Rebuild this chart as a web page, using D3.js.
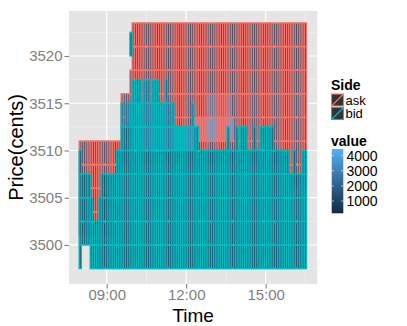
<!DOCTYPE html>
<html>
<head>
<meta charset="utf-8">
<script src="https://cdn.jsdelivr.net/npm/d3@7"></script>
<style>
  body { margin: 0; background: #fff; }
  text { font-family: "Liberation Sans", Arial, sans-serif; }
</style>
</head>
<body>
<svg id="svgContainer"></svg>
<script>
// Set up the SVG container
const svgWidth = 407;
const svgHeight = 326;
const svg = d3.select("#svgContainer")
  .attr("width", svgWidth)
  .attr("height", svgHeight);

// ---- data ----
// price levels (lower edge of each tile, in cents), each tile is 2.5 cents tall
const askLevels = [3501, 3503.5, 3506, 3508.5, 3511, 3513.5, 3516, 3518.5, 3521];
const askValues = [900, 950, 1000, 1050, 1150, 1200, 1000, 900, 850];
const bidLevels = [3497.5, 3500, 3502.5, 3505, 3507.5, 3510, 3512.5, 3515, 3517.5, 3520];
const bidValues = [800, 950, 1050, 1000, 1050, 1300, 1250, 950, 850, 700];

// runs of 5-minute snapshots: [first, last, lowest price, highest price]
const askRuns = [
  ["08:00", "09:30", 3501, 3511],
  ["09:35", "09:50", 3508.5, 3516],
  ["09:55", "09:55", 3508.5, 3518.5],
  ["10:00", "15:50", 3508.5, 3523.5],
  ["15:55", "16:30", 3506, 3523.5]
];
const bidRuns = [
  ["08:00", "08:00", 3497.5, 3510],
  ["08:05", "08:20", 3500, 3507.5],
  ["08:25", "08:25", 3497.5, 3505],
  ["08:30", "08:40", 3497.5, 3502.5],
  ["08:45", "08:45", 3497.5, 3505],
  ["08:50", "09:20", 3497.5, 3507.5],
  ["09:25", "09:30", 3497.5, 3510],
  ["09:35", "09:35", 3497.5, 3515],
  ["09:40", "09:40", 3497.5, 3512.5],
  ["09:45", "09:55", 3497.5, 3515],
  ["09:55", "09:55", 3520, 3522.5],
  ["10:00", "10:15", 3497.5, 3517.5],
  ["10:20", "10:20", 3497.5, 3515],
  ["10:25", "10:35", 3497.5, 3517.5],
  ["10:40", "10:40", 3497.5, 3515],
  ["10:45", "10:55", 3497.5, 3517.5],
  ["11:00", "11:10", 3497.5, 3515],
  ["11:15", "11:15", 3497.5, 3517.5],
  ["11:20", "11:30", 3497.5, 3515],
  ["11:35", "12:10", 3497.5, 3512.5],
  ["12:15", "12:15", 3497.5, 3515],
  ["12:20", "12:25", 3497.5, 3512.5],
  ["12:30", "13:30", 3497.5, 3510],
  ["13:35", "13:35", 3497.5, 3512.5],
  ["13:40", "13:50", 3497.5, 3510],
  ["13:55", "13:55", 3497.5, 3512.5],
  ["14:00", "14:00", 3497.5, 3510],
  ["14:05", "14:15", 3497.5, 3512.5],
  ["14:20", "14:30", 3497.5, 3510],
  ["14:35", "14:35", 3497.5, 3512.5],
  ["14:40", "14:45", 3497.5, 3510],
  ["14:50", "15:15", 3497.5, 3512.5],
  ["15:20", "15:50", 3497.5, 3510],
  ["15:55", "16:00", 3497.5, 3507.5],
  ["16:05", "16:05", 3497.5, 3510],
  ["16:10", "16:20", 3497.5, 3507.5],
  ["16:25", "16:30", 3497.5, 3510]
];
// spots where the depth was much larger: [side, level, first, last, value]
const bigDepth = [
  ["ask", 3511, "12:20", "13:45", 3600],
  ["ask", 3513.5, "12:50", "13:40", 2400],
  ["bid", 3510, "10:00", "11:30", 2300],
  ["bid", 3510, "11:35", "12:15", 3100],
  ["bid", 3512.5, "09:35", "12:25", 2300],
  ["bid", 3515, "09:35", "11:30", 2000],
  ["bid", 3517.5, "10:00", "11:15", 1800]
];

const sides = ["ask", "bid"];
const sideColors = ["#F8766D", "#00BFC4"];
const xTicks = ["09:00", "12:00", "15:00"];
const xMinor = ["07:30", "10:30", "13:30", "16:30"];
const yTicks = [3500, 3505, 3510, 3515, 3520];
const yMinor = [3497.5, 3502.5, 3507.5, 3512.5, 3517.5, 3522.5];
const valueTicks = [1000, 2000, 3000, 4000];
const valueRange = [190, 4440];

// ---- layout ----
const panel = { left: 69, right: 317.3, top: 11, bottom: 284 };
const parseT = d3.timeParse("%H:%M");
const stepMin = 5;
const tileH = 2.5;

const x = d3.scaleTime()
  .domain([d3.timeSecond.offset(parseT("07:34"), 30), parseT("16:57")])
  .range([panel.left, panel.right]);
const y = d3.scaleLinear()
  .domain([3495.87, 3524.76])
  .range([panel.bottom, panel.top]);
const fill = d3.scaleLinear()
  .domain(valueRange)
  .range(["#132B43", "#56B1F7"])
  .interpolate(d3.interpolateLab);
const sideColor = d3.scaleOrdinal().domain(sides).range(sideColors);

// expand the runs into one tile per snapshot and price level
function buildTiles(side, runs, levels, values) {
  const tiles = [];
  runs.forEach(([a, b, lo, hi]) => {
    const times = d3.timeMinute.every(stepMin).range(parseT(a), d3.timeMinute.offset(parseT(b), 1));
    times.forEach(t => {
      levels.forEach((lev, i) => {
        if (lev >= lo && lev < hi) {
          let v = values[i];
          bigDepth.forEach(([s, l, f, e, bv]) => {
            if (s === side && l === lev && t >= parseT(f) && t <= parseT(e)) v = bv;
          });
          tiles.push({ side, t, lev, v });
        }
      });
    });
  });
  return tiles;
}
const askTiles = buildTiles("ask", askRuns, askLevels, askValues);
const bidTiles = buildTiles("bid", bidRuns, bidLevels, bidValues);

// ---- panel background and grid ----
svg.append("rect")
  .attr("x", panel.left).attr("y", panel.top)
  .attr("width", panel.right - panel.left).attr("height", panel.bottom - panel.top)
  .attr("fill", "#E5E5E5");

const grid = svg.append("g");
grid.selectAll(".xminor").data(xMinor.map(parseT).filter(d => x(d) > panel.left)).enter()
  .append("line")
  .attr("x1", d => x(d)).attr("x2", d => x(d))
  .attr("y1", panel.top).attr("y2", panel.bottom)
  .attr("stroke", "#F2F2F2").attr("stroke-width", 0.6);
grid.selectAll(".yminor").data(yMinor).enter()
  .append("line")
  .attr("x1", panel.left).attr("x2", panel.right)
  .attr("y1", d => y(d)).attr("y2", d => y(d))
  .attr("stroke", "#F2F2F2").attr("stroke-width", 0.6);
grid.selectAll(".xmajor").data(xTicks.map(parseT)).enter()
  .append("line")
  .attr("x1", d => x(d)).attr("x2", d => x(d))
  .attr("y1", panel.top).attr("y2", panel.bottom)
  .attr("stroke", "#fff").attr("stroke-width", 1.2);
grid.selectAll(".ymajor").data(yTicks).enter()
  .append("line")
  .attr("x1", panel.left).attr("x2", panel.right)
  .attr("y1", d => y(d)).attr("y2", d => y(d))
  .attr("stroke", "#fff").attr("stroke-width", 1.2);

// ---- tiles ----
const halfStep = stepMin * 30; // seconds
function drawTiles(tiles) {
  svg.append("g").selectAll("rect")
    .data(tiles).enter()
    .append("rect")
    .attr("x", d => x(d3.timeSecond.offset(d.t, -halfStep)))
    .attr("width", d => x(d3.timeSecond.offset(d.t, halfStep)) - x(d3.timeSecond.offset(d.t, -halfStep)))
    .attr("y", d => y(d.lev + tileH))
    .attr("height", d => y(d.lev) - y(d.lev + tileH))
    .attr("fill", d => fill(d.v))
    .attr("fill-opacity", 0.9)
    .attr("stroke", d => sideColor(d.side))
    .attr("stroke-opacity", 0.95)
    .attr("stroke-width", 1.35);
}
drawTiles(askTiles);
drawTiles(bidTiles);

// ---- axes ----
const axisGrey = "#7F7F7F";
const yAxis = svg.append("g")
  .attr("transform", `translate(${panel.left},0)`)
  .call(d3.axisLeft(y).tickValues(yTicks).tickSize(4.5).tickPadding(2).tickFormat(d3.format("d")));
const xAxis = svg.append("g")
  .attr("transform", `translate(0,${panel.bottom})`)
  .call(d3.axisBottom(x).tickValues(xTicks.map(parseT)).tickSize(4.5).tickPadding(1).tickFormat(d3.timeFormat("%H:%M")));
[xAxis, yAxis].forEach(ax => {
  ax.select(".domain").remove();
  ax.selectAll("line").attr("stroke", axisGrey).attr("stroke-width", 1.1);
  ax.selectAll("text")
    .attr("fill", axisGrey)
    .attr("font-size", 15)
    .attr("font-family", "Liberation Sans, Arial, sans-serif");
});

svg.append("text")
  .text("Time")
  .attr("x", (panel.left + panel.right) / 2)
  .attr("y", 321.5)
  .attr("text-anchor", "middle")
  .attr("font-size", 19);

svg.append("text")
  .text("Price(cents)")
  .attr("transform", `translate(23,${(panel.top + panel.bottom) / 2}) rotate(-90)`)
  .attr("text-anchor", "middle")
  .attr("font-size", 20);

// ---- legends ----
const legX = 331;
svg.append("text").text("Side")
  .attr("x", legX).attr("y", 89.5)
  .attr("font-size", 14).attr("font-weight", "bold");

const keyW = 13, keyH = 13.5;
const keys = svg.selectAll(".side-key")
  .data(sides).enter()
  .append("g")
  .attr("transform", (d, i) => `translate(${legX},${93.5 + i * keyH})`);
keys.append("rect")
  .attr("x", 0.5).attr("y", 0.5)
  .attr("width", keyW - 1).attr("height", keyH - 1.5)
  .attr("fill", "#333333")
  .attr("stroke", d => sideColor(d))
  .attr("stroke-width", 1.1);
keys.append("line")
  .attr("x1", 1).attr("y1", keyH - 1.5)
  .attr("x2", keyW - 1).attr("y2", 1)
  .attr("stroke", d => sideColor(d))
  .attr("stroke-width", 1.1);
keys.append("text")
  .text(d => d)
  .attr("x", keyW + 1.5).attr("y", 11)
  .attr("font-size", 13);

svg.append("text").text("value")
  .attr("x", legX).attr("y", 145.5)
  .attr("font-size", 14).attr("font-weight", "bold");

// colour bar
const bar = { x: 331.7, w: 11.6, top: 149, bottom: 213.3 };
const vScale = d3.scaleLinear().domain(valueRange).range([bar.bottom, bar.top]);
const defs = svg.append("defs");
const grad = defs.append("linearGradient")
  .attr("id", "valueGrad")
  .attr("x1", 0).attr("y1", 1).attr("x2", 0).attr("y2", 0);
d3.range(0, 1.0001, 0.1).forEach(s => {
  grad.append("stop")
    .attr("offset", s)
    .attr("stop-color", fill(valueRange[0] + s * (valueRange[1] - valueRange[0])));
});
svg.append("rect")
  .attr("x", bar.x).attr("y", bar.top)
  .attr("width", bar.w).attr("height", bar.bottom - bar.top)
  .attr("fill", "url(#valueGrad)");
const vt = svg.selectAll(".vtick").data(valueTicks).enter().append("g");
vt.append("line")
  .attr("x1", bar.x).attr("x2", bar.x + 2.3)
  .attr("y1", d => vScale(d)).attr("y2", d => vScale(d))
  .attr("stroke", "#fff").attr("stroke-opacity", 0.6);
vt.append("line")
  .attr("x1", bar.x + bar.w - 2.3).attr("x2", bar.x + bar.w)
  .attr("y1", d => vScale(d)).attr("y2", d => vScale(d))
  .attr("stroke", "#fff").attr("stroke-opacity", 0.6);
vt.append("text")
  .text(d => d)
  .attr("x", 346.5).attr("y", d => vScale(d) + 5)
  .attr("font-size", 14);
</script>
</body>
</html>
